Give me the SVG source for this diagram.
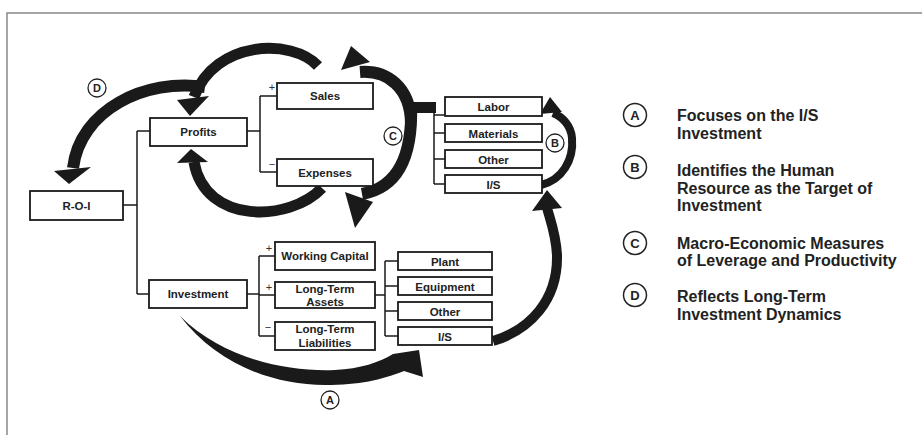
<svg xmlns="http://www.w3.org/2000/svg" width="922" height="435" viewBox="0 0 922 435">
<style>
.box{fill:#fff;stroke:#1a1a1a;stroke-width:1.8}
.bt{font-family:"Liberation Sans",Arial,sans-serif;font-weight:bold;font-size:11.5px;fill:#222;text-anchor:middle}
.tree{fill:none;stroke:#1a1a1a;stroke-width:1.5}
.thick{fill:none;stroke:#1a1a1a;stroke-linecap:butt}
.head{fill:#1a1a1a}
.sign{font-family:"Liberation Sans",Arial,sans-serif;font-size:11px;fill:#333;text-anchor:middle}
.lc{fill:#fff;stroke:#222;stroke-width:1.3}
.ll{font-family:"Liberation Sans",Arial,sans-serif;font-weight:bold;font-size:11px;fill:#222;text-anchor:middle}
.lgc{fill:#fff;stroke:#222;stroke-width:1.5}
.lgl{font-family:"Liberation Sans",Arial,sans-serif;font-weight:bold;font-size:13px;fill:#222;text-anchor:middle}
.lgt{font-family:"Liberation Sans",Arial,sans-serif;font-weight:bold;font-size:16px;fill:#222}
</style>
<rect width="922" height="435" fill="#fff"/>
<path d="M7,435 V13 H922" fill="none" stroke="#888" stroke-width="1.5"/>

<g id="connectors">
  <path class="tree" d="M123,205 H137 M137,131 V294 M137,131 H150 M137,294 H149"/>
  <path class="tree" d="M247,131 H260 M260,96 V172 M260,96 H277 M260,172 H277"/>
  <path class="tree" d="M247,294 H259 M259,256 V336 M259,256 H275 M259,295 H275 M259,336 H275"/>
  <path class="tree" d="M375,295 H385 M385,261 V336 M385,261 H398 M385,286 H398 M385,311 H398 M385,336 H398"/>
  <path class="tree" d="M434,112 V184 M434,115 H445 M434,133 H445 M434,159 H445 M434,184 H445"/>
  <text class="sign" x="272" y="91">+</text>
  <text class="sign" x="272" y="168">−</text>
  <text class="sign" x="269" y="252">+</text>
  <text class="sign" x="269" y="291">+</text>
  <text class="sign" x="268" y="331">−</text>

  <g id="arrow-sales-profits">
    <path class="thick" stroke-width="11" d="M318,66 C292,38 215,40 194,97"/>
    <polygon class="head" points="177,100 209,96 190,116"/>
  </g>
  <g id="arrow-D">
    <path class="thick" stroke-width="12" d="M205,87 C145,78 80,110 73,168"/>
    <polygon class="head" points="54,171 91,167 69,184"/>
  </g>
  <g id="arrow-expenses-profits">
    <path class="thick" stroke-width="11" d="M322,188 C290,222 205,225 194,162"/>
    <polygon class="head" points="177,163 208,162 191,149"/>
  </g>
  <g id="arrow-C">
    <rect x="410" y="102" width="26" height="11" fill="#1a1a1a"/>
    <path class="thick" stroke-width="12" d="M411,122 C410,88 388,70 360,72"/>
    <polygon class="head" points="341,70 351,46 370,62"/>
    <path class="thick" stroke-width="12" d="M411,105 C413,160 395,188 362,194"/>
    <polygon class="head" points="345,192 373,202 355,228"/>
  </g>
  <g id="arrow-B">
    <path class="thick" stroke-width="8" d="M541,185 C562,180 574,160 572,138 C571,126 563,117 553,113"/>
    <polygon class="head" points="540,114 550,97 562,112"/>
  </g>
  <g id="arrow-IS">
    <path class="thick" stroke-width="10" d="M493,341 C530,330 558,300 557,255 C556,235 551,222 547,208"/>
    <polygon class="head" points="532,211 547,190 562,208"/>
  </g>
  <g id="arrow-A">
    <path class="head" d="M180,316 C222,358 285,372 335,370 C360,369 380,362 393,354 L419,350 L423,377 L404,371 C380,380 360,385 325,385 C270,385 215,362 180,316 Z"/>
  </g>
</g>

<g id="n-roi"><rect class="box" x="30" y="191" width="93" height="29"/><text class="bt" x="76.5" y="209.5">R-O-I</text></g>
<g id="n-profits"><rect class="box" x="150" y="118" width="97" height="28"/><text class="bt" x="198.5" y="136">Profits</text></g>
<g id="n-sales"><rect class="box" x="277" y="83" width="96" height="26"/><text class="bt" x="325" y="100">Sales</text></g>
<g id="n-expenses"><rect class="box" x="277" y="159" width="96" height="27"/><text class="bt" x="325" y="176.5">Expenses</text></g>
<g id="n-investment"><rect class="box" x="149" y="280" width="98" height="28"/><text class="bt" x="198" y="298">Investment</text></g>
<g id="n-wc"><rect class="box" x="275" y="242" width="100" height="28"/><text class="bt" x="325" y="260">Working Capital</text></g>
<g id="n-lta"><rect class="box" x="275" y="282" width="100" height="26"/><text class="bt" x="325" y="293">Long-Term</text><text class="bt" x="325" y="306">Assets</text></g>
<g id="n-ltl"><rect class="box" x="275" y="322" width="100" height="28"/><text class="bt" x="325" y="333">Long-Term</text><text class="bt" x="325" y="347">Liabilities</text></g>
<g id="n-plant"><rect class="box" x="398" y="252" width="94" height="18"/><text class="bt" x="445" y="265.5">Plant</text></g>
<g id="n-equipment"><rect class="box" x="398" y="277" width="94" height="18"/><text class="bt" x="445" y="290.5">Equipment</text></g>
<g id="n-other2"><rect class="box" x="398" y="302" width="94" height="18"/><text class="bt" x="445" y="315.5">Other</text></g>
<g id="n-is2"><rect class="box" x="398" y="327" width="94" height="18"/><text class="bt" x="445" y="340.5">I/S</text></g>
<g id="n-labor"><rect class="box" x="445" y="97" width="97" height="19"/><text class="bt" x="493.5" y="110.5">Labor</text></g>
<g id="n-materials"><rect class="box" x="445" y="124" width="97" height="18"/><text class="bt" x="493.5" y="137.5">Materials</text></g>
<g id="n-other1"><rect class="box" x="445" y="150" width="97" height="18"/><text class="bt" x="493.5" y="163.5">Other</text></g>
<g id="n-is1"><rect class="box" x="445" y="175" width="97" height="18"/><text class="bt" x="493.5" y="188.5">I/S</text></g>

<g id="label-D"><circle class="lc" cx="97" cy="88" r="9"/><text class="ll" x="97" y="92">D</text></g>
<g id="label-C"><circle class="lc" cx="393" cy="136" r="9"/><text class="ll" x="393" y="140">C</text></g>
<g id="label-B"><circle class="lc" cx="555" cy="143" r="9"/><text class="ll" x="555" y="147">B</text></g>
<g id="label-A"><circle class="lc" cx="330" cy="400" r="9"/><text class="ll" x="330" y="404">A</text></g>

<g id="legend">
  <circle class="lgc" cx="635" cy="115" r="11.5"/><text class="lgl" x="635" y="120">A</text>
  <text class="lgt" x="677" y="121">Focuses on the I/S</text>
  <text class="lgt" x="677" y="138.5">Investment</text>
  <circle class="lgc" cx="635" cy="167" r="11.5"/><text class="lgl" x="635" y="172">B</text>
  <text class="lgt" x="677" y="176">Identifies the Human</text>
  <text class="lgt" x="677" y="193.5">Resource as the Target of</text>
  <text class="lgt" x="677" y="211">Investment</text>
  <circle class="lgc" cx="635" cy="243" r="11.5"/><text class="lgl" x="635" y="248">C</text>
  <text class="lgt" x="677" y="248.5">Macro-Economic Measures</text>
  <text class="lgt" x="677" y="266">of Leverage and Productivity</text>
  <circle class="lgc" cx="635" cy="295" r="11.5"/><text class="lgl" x="635" y="300">D</text>
  <text class="lgt" x="677" y="302">Reflects Long-Term</text>
  <text class="lgt" x="677" y="319.5">Investment Dynamics</text>
</g>
</svg>
